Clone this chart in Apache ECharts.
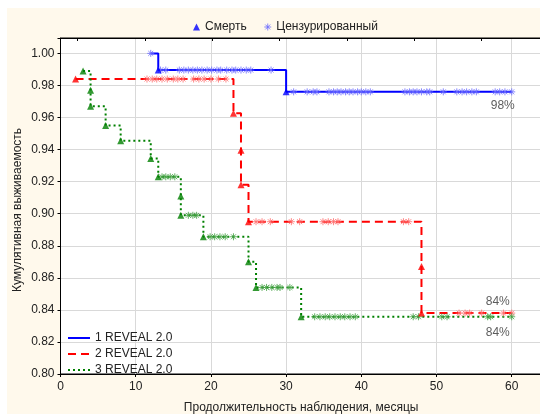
<!DOCTYPE html>
<html>
<head>
<meta charset="utf-8">
<script src="https://cdn.jsdelivr.net/npm/echarts@6/dist/echarts.min.js"></script>
<style>
  html, body { margin: 0; padding: 0; background: #fff; }
  #chart { width: 540px; height: 414px; }
</style>
</head>
<body>
<div id="chart"></div>
<script>
// Kaplan–Meier curves by REVEAL 2.0 risk group
const groupNames = ['1 REVEAL 2.0', '2 REVEAL 2.0', '3 REVEAL 2.0'];
const legendMarks = ['Смерть', 'Цензурированный'];

// Group 1: event times (months) and survival after each event
const g1DeathT = [13, 30];
const g1DeathS = [0.9896, 0.976];
const g1CensT = [12, 13.3, 14, 15.8, 16.4, 17, 17.6, 18.2, 18.8, 19.5, 20.1, 20.8, 21.3, 22.1, 22.8,
  23.3, 24, 24.7, 25.3, 28, 31, 32.8, 33.6, 34.1, 35.7, 36.3, 36.8, 37.3, 37.9, 38.4, 38.9, 39.5,
  40, 40.6, 41.2, 45.8, 46.4, 46.9, 47.4, 48, 48.7, 49.1, 50.9, 52.7, 53.4, 54, 54.7, 55.3,
  57.8, 58.4, 59.1, 60];

// Group 2
const g2DeathT = [2, 23, 24, 24, 25, 48, 48];
const g2DeathS = [0.984, 0.9626, 0.9396, 0.918, 0.895, 0.867, 0.838];
const g2CensT = [11.5, 12.2, 12.8, 13.5, 14.2, 15, 15.6, 16.3, 17.7, 18.4, 19.1, 20, 21, 22,
  26, 26.8, 27.9, 30.7, 31.8, 34.9, 35.6, 36.3, 36.9, 45.6, 46.3,
  53, 53.8, 54.4, 56, 58.9, 60];

// Group 3
const g3DeathT = [3, 4, 4, 6, 8, 12, 13, 16, 16, 19, 25, 26, 32];
const g3DeathS = [0.989, 0.977, 0.967, 0.955, 0.9455, 0.9345, 0.923, 0.911, 0.899, 0.8856, 0.870, 0.854, 0.8357];
const g3CensT = [13.5, 14, 14.6, 15.2, 17, 17.6, 18.1, 19.9, 20.5, 21.2, 21.9, 23,
  26.8, 27.4, 28.1, 28.8, 29.2, 30.5, 33.8, 34.5, 35.2, 35.8, 36.5, 37.2, 37.8, 38.5, 39.2,
  46.9, 47.6, 50.7, 51.4, 56.8, 57.2, 60];

// Axis ticks
const xTickValues = [0, 10, 20, 30, 40, 50, 60];
const yTickValues = [0.80, 0.82, 0.84, 0.86, 0.88, 0.90, 0.92, 0.94, 0.96, 0.98, 1.00];
const topTickValues = [2.27, 11.24, 20.2, 29.1, 38.1, 47.0, 56.0];

const groupData = [
  { deathT: g1DeathT, deathS: g1DeathS, censT: g1CensT },
  { deathT: g2DeathT, deathS: g2DeathS, censT: g2CensT },
  { deathT: g3DeathT, deathS: g3DeathS, censT: g3CensT }
];

const lineColors = ['#0000ff', '#ff0000', '#008000'];
const censColors = ['#6a6aff', '#ff6a6a', '#3f9f3f'];
const lineTypes = ['solid', [8, 5], [2, 3]];
const pctOffsets = [[-9, 14], [-14, -11], [-14, 16]];

const censorPath = 'path://M5,0L5,10M0,5L10,5M1.5,1.5L8.5,8.5M1.5,8.5L8.5,1.5';

// survival level in force at time t (last event at or before t)
function levelAt(t, dT, dS) {
  let s = 1.0;
  for (let i = 0; i < dT.length; i++) if (dT[i] <= t) s = dS[i];
  return s;
}

const series = [];
groupData.forEach((g, i) => {
  const deaths = g.deathT.map((t, k) => [t, g.deathS[k]]);
  const cens = g.censT.map(t => [t, levelAt(t, g.deathT, g.deathS)]);
  const steps = deaths.concat(cens).sort((a, b) => (a[0] - b[0]) || (b[1] - a[1]));
  const last = steps[steps.length - 1];
  series.push({
    name: groupNames[i], type: 'line', step: 'end', data: steps,
    symbol: 'none', color: lineColors[i], z: 2,
    lineStyle: { color: lineColors[i], width: 2, type: lineTypes[i] }
  });
  series.push({
    name: legendMarks[0], type: 'scatter', data: deaths, symbol: 'triangle',
    symbolSize: [7, 7], z: 4, itemStyle: { color: lineColors[i] }
  });
  series.push({
    name: legendMarks[1], type: 'scatter', data: cens, symbol: censorPath,
    symbolSize: 7, z: 3,
    itemStyle: { color: 'transparent', borderColor: censColors[i], borderWidth: 1 }
  });
  series.push({
    name: 'pct' + i, type: 'scatter', data: [last], symbolSize: 1, silent: true,
    itemStyle: { color: 'transparent' },
    label: {
      show: true, position: 'inside', offset: pctOffsets[i],
      formatter: p => Math.round(p.value[1] * 100) + '%',
      fontFamily: 'Liberation Sans, Arial', fontSize: 12, color: '#333'
    }
  });
});

const chart = echarts.init(document.getElementById('chart'), null, { renderer: 'canvas' });
const font = 'Liberation Sans, Arial';

chart.setOption({
  backgroundColor: '#ffffff',
  animation: false,
  textStyle: { fontFamily: font },
  graphic: [
    { type: 'rect', z: -10, shape: { x: 7, y: 8, width: 540, height: 420 },
      style: { fill: '#fff9ec' } },
    { type: 'text', x: 18, y: 210, rotation: Math.PI / 2, z: 5,
      style: { text: 'Кумулятивная выживаемость', font: '12px ' + font, fill: '#222',
        textAlign: 'center', textVerticalAlign: 'middle' } }
  ],
  grid: { left: 60.5, top: 38, width: 481.3, height: 336, show: true,
    outerBoundsMode: 'none', containLabel: false,
    backgroundColor: '#ffffff', borderWidth: 1, borderColor: '#000' },
  legend: [
    { data: [
        { name: legendMarks[0], icon: 'triangle', itemStyle: { color: lineColors[0] } },
        { name: legendMarks[1], icon: censorPath,
          itemStyle: { color: 'transparent', borderColor: censColors[0], borderWidth: 1 } }
      ],
      left: 188, top: 16, itemWidth: 7, itemHeight: 7, itemGap: 17, selectedMode: false,
      textStyle: { fontFamily: font, fontSize: 12, color: '#222' } },
    { data: groupNames, orient: 'vertical', left: 62, top: 327, itemWidth: 22, itemHeight: 10,
      itemGap: 4, selectedMode: false, itemStyle: { opacity: 0 },
      textStyle: { fontFamily: font, fontSize: 12, color: '#222' } }
  ],
  xAxis: [
    { type: 'value', min: 0, max: 64, interval: 10, position: 'bottom',
      name: 'Продолжительность наблюдения, месяцы', nameLocation: 'middle', nameGap: 28,
      nameTextStyle: { fontFamily: font, fontSize: 12, color: '#222' },
      axisLine: { show: true, lineStyle: { color: '#000', width: 1 } },
      axisTick: { show: true, length: 3, lineStyle: { color: '#000' } },
      axisLabel: { margin: 7, fontSize: 12, color: '#222', fontFamily: font,
        formatter: v => xTickValues.includes(v) ? String(v) : '' },
      splitLine: { show: true, lineStyle: { color: '#d9d9d9', width: 1 } } },
    { type: 'value', min: 0, max: 64, position: 'top',
      axisLine: { show: true, lineStyle: { color: '#000', width: 1 } },
      axisTick: { show: true, inside: true, length: 3, customValues: topTickValues,
        lineStyle: { color: '#000' } },
      axisLabel: { show: false }, splitLine: { show: false } }
  ],
  yAxis: {
    type: 'value', min: 0.8, max: 1.0096, interval: 0.02,
    axisLine: { show: true, lineStyle: { color: '#000', width: 1 } },
    axisTick: { show: true, length: 3, lineStyle: { color: '#000' } },
    axisLabel: { margin: 6, fontSize: 12, color: '#222', fontFamily: font,
      formatter: v => {
        const hit = yTickValues.find(t => Math.abs(t - v) < 1e-6);
        return hit !== undefined ? hit.toFixed(2) : '';
      } },
    splitLine: { show: true, lineStyle: { color: '#d9d9d9', width: 1 } }
  },
  series: series
});
</script>
</body>
</html>
